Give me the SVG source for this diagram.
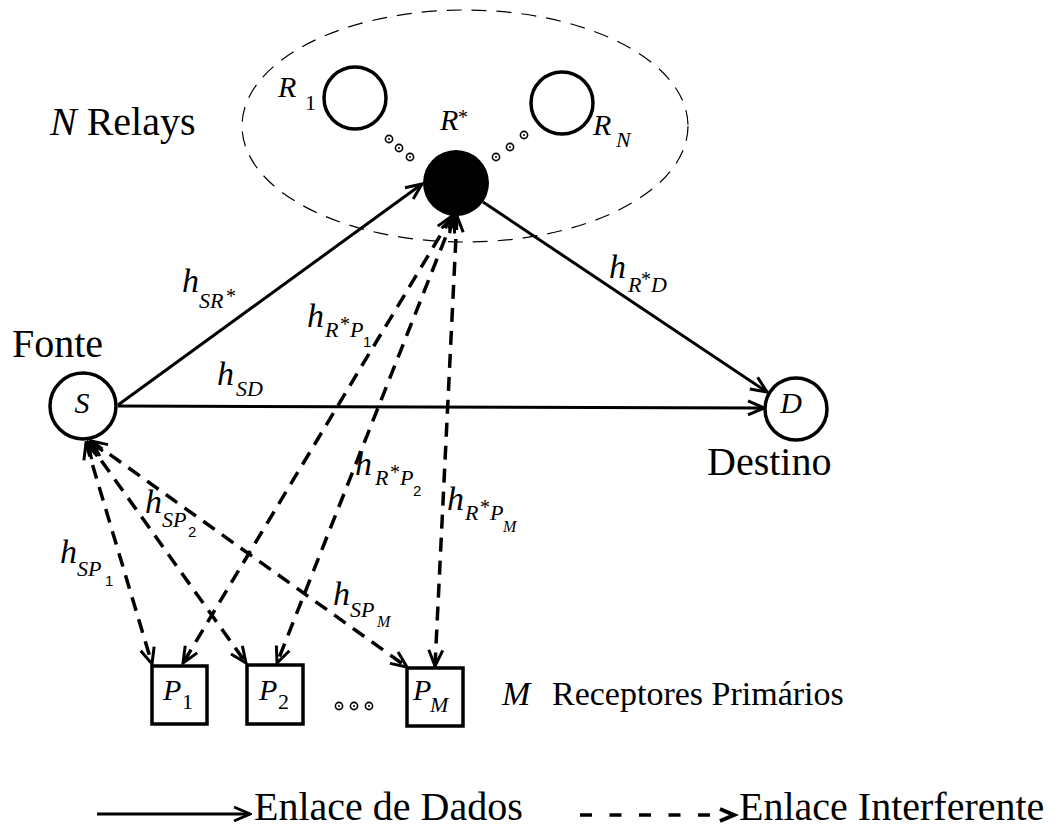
<svg xmlns="http://www.w3.org/2000/svg" width="1063" height="828" viewBox="0 0 1063 828">
  <defs>
    <marker id="arrow" viewBox="-20 -10 22 20" markerWidth="22" markerHeight="20" refX="0" refY="0" orient="auto" markerUnits="userSpaceOnUse">
      <path d="M-16,-7 L0,0 L-16,7" fill="none" stroke="#000" stroke-width="3"/>
    </marker>
    <marker id="arrow-back" viewBox="-2 -10 22 20" markerWidth="22" markerHeight="20" refX="0" refY="0" orient="auto" markerUnits="userSpaceOnUse">
      <path d="M16,-7 L0,0 L16,7" fill="none" stroke="#000" stroke-width="3"/>
    </marker>
  </defs>

  <rect x="0" y="0" width="1063" height="828" fill="#fff"/>

  <!-- relay cluster outline -->
  <ellipse cx="465" cy="126" rx="223" ry="116" fill="none" stroke="#000" stroke-width="1.2" stroke-dasharray="15 10"/>
  <text x="50" y="135" font-family="Liberation Serif" font-size="40" style="font-family: 'Liberation Serif', serif"><tspan font-style="italic">N</tspan> Relays</text>

  <!-- links -->
  <g id="connectors">
    <g id="data-links" fill="none" stroke="#000" stroke-width="3">
      <line x1="118" y1="405" x2="422" y2="184" marker-end="url(#arrow)"/>
      <line x1="118" y1="406" x2="764" y2="408" marker-end="url(#arrow)"/>
      <line x1="483" y1="202" x2="767" y2="392" marker-end="url(#arrow)"/>
    </g>
    <g id="interference-links" fill="none" stroke="#000" stroke-width="3.5" stroke-dasharray="14 9">
      <line x1="86" y1="443" x2="152" y2="664" marker-start="url(#arrow-back)" marker-end="url(#arrow)"/>
      <line x1="88" y1="442" x2="246" y2="663" marker-start="url(#arrow-back)" marker-end="url(#arrow)"/>
      <line x1="91" y1="441" x2="407" y2="667" marker-start="url(#arrow-back)" marker-end="url(#arrow)"/>
      <line x1="452" y1="216" x2="183" y2="663" marker-start="url(#arrow-back)" marker-end="url(#arrow)"/>
      <line x1="454" y1="216" x2="277" y2="663" marker-start="url(#arrow-back)" marker-end="url(#arrow)"/>
      <line x1="457" y1="216" x2="435" y2="666" marker-start="url(#arrow-back)" marker-end="url(#arrow)"/>
    </g>
  </g>

  <!-- channel labels: h (34px italic), subscripts (22px italic), second-level indices (15px) -->
  <g id="channel-labels" font-family="Liberation Serif" fill="#000">
    <text x="182" y="292" font-size="34" font-style="italic" style="font-family: 'Liberation Serif', serif">h<tspan font-size="22" x="199" y="308">SR</tspan><tspan font-size="20" font-style="normal" x="226" y="303">*</tspan></text>
    <text x="217" y="385" font-size="34" font-style="italic" style="font-family: 'Liberation Serif', serif">h<tspan font-size="22" x="236" y="396">SD</tspan></text>
    <text x="609" y="278" font-size="34" font-style="italic" style="font-family: 'Liberation Serif', serif">h<tspan font-size="22" x="628" y="292">R</tspan><tspan font-size="20" font-style="normal" x="641" y="286">*</tspan><tspan font-size="22" x="651" y="292">D</tspan></text>

    <text x="307" y="327" font-size="34" font-style="italic" style="font-family: 'Liberation Serif', serif">h<tspan font-size="22" x="325" y="337">R</tspan><tspan font-size="20" font-style="normal" x="340" y="331">*</tspan><tspan font-size="22" x="350" y="337">P</tspan><tspan font-size="15" font-style="normal" style="font-family: 'Liberation Sans', sans-serif" x="363" y="347">1</tspan></text>
    <text x="355" y="475" font-size="34" font-style="italic" style="font-family: 'Liberation Serif', serif">h<tspan font-size="22" x="375" y="485">R</tspan><tspan font-size="20" font-style="normal" x="390" y="479">*</tspan><tspan font-size="22" x="400" y="485">P</tspan><tspan font-size="15" font-style="normal" style="font-family: 'Liberation Sans', sans-serif" x="413" y="496">2</tspan></text>
    <text x="447" y="510" font-size="34" font-style="italic" style="font-family: 'Liberation Serif', serif">h<tspan font-size="22" x="465" y="520">R</tspan><tspan font-size="20" font-style="normal" x="480" y="514">*</tspan><tspan font-size="22" x="490" y="520">P</tspan><tspan font-size="16" x="503" y="532">M</tspan></text>

    <text x="145" y="513" font-size="34" font-style="italic" style="font-family: 'Liberation Serif', serif">h<tspan font-size="22" x="162" y="527">SP</tspan><tspan font-size="15" font-style="normal" style="font-family: 'Liberation Sans', sans-serif" x="188" y="537">2</tspan></text>
    <text x="60" y="563" font-size="34" font-style="italic" style="font-family: 'Liberation Serif', serif">h<tspan font-size="22" x="77" y="576">SP</tspan><tspan font-size="15" font-style="normal" style="font-family: 'Liberation Sans', sans-serif" x="105" y="586">1</tspan></text>
    <text x="333" y="605" font-size="34" font-style="italic" style="font-family: 'Liberation Serif', serif">h<tspan font-size="22" x="350" y="617">SP</tspan><tspan font-size="16" x="377" y="627">M</tspan></text>
  </g>

  <!-- relays -->
  <g id="relay-1">
    <circle cx="355" cy="98" r="31" fill="#fff" stroke="#000" stroke-width="3.5"/>
    <text x="278" y="97" font-family="Liberation Serif" font-size="30" font-style="italic" style="font-family: 'Liberation Serif', serif">R<tspan font-size="22" font-style="normal" x="305" y="110">1</tspan></text>
  </g>
  <g id="relay-best">
    <circle cx="456" cy="183" r="33" fill="#000"/>
    <text x="440" y="130" font-family="Liberation Serif" font-size="30" font-style="italic" style="font-family: 'Liberation Serif', serif">R<tspan font-size="20" font-style="normal" x="458" y="124">*</tspan></text>
  </g>
  <g id="relay-n">
    <circle cx="562" cy="103" r="31" fill="#fff" stroke="#000" stroke-width="3.5"/>
    <text x="593" y="135" font-family="Liberation Serif" font-size="30" font-style="italic" style="font-family: 'Liberation Serif', serif">R<tspan font-size="22" x="616" y="147">N</tspan></text>
  </g>
  <!-- ellipsis dots between relays: small rings with a centre point -->
  <g id="relay-dots" fill="#fff" stroke="#000" stroke-width="1.6">
    <circle cx="389" cy="139" r="3.6"/>
    <circle cx="399" cy="148" r="3.6"/>
    <circle cx="410" cy="157" r="3.6"/>
    <circle cx="496" cy="157" r="3.6"/>
    <circle cx="510" cy="147" r="3.6"/>
    <circle cx="524" cy="135" r="3.6"/>
    <g fill="#000" stroke="none">
      <circle cx="389" cy="139" r="1"/>
      <circle cx="399" cy="148" r="1"/>
      <circle cx="410" cy="157" r="1"/>
      <circle cx="496" cy="157" r="1"/>
      <circle cx="510" cy="147" r="1"/>
      <circle cx="524" cy="135" r="1"/>
    </g>
  </g>

  <!-- source -->
  <g id="source">
    <circle cx="83" cy="406" r="33" fill="#fff" stroke="#000" stroke-width="3.5"/>
    <text x="82" y="413" text-anchor="middle" font-family="Liberation Serif" font-size="30" font-style="italic" style="font-family: 'Liberation Serif', serif">S</text>
    <text x="12" y="357" font-family="Liberation Serif" font-size="40" style="font-family: 'Liberation Serif', serif">Fonte</text>
  </g>

  <!-- destination -->
  <g id="destination">
    <circle cx="796" cy="409" r="31" fill="#fff" stroke="#000" stroke-width="3.5"/>
    <text x="791" y="413" text-anchor="middle" font-family="Liberation Serif" font-size="30" font-style="italic" style="font-family: 'Liberation Serif', serif">D</text>
    <text x="707" y="475" font-family="Liberation Serif" font-size="40" style="font-family: 'Liberation Serif', serif">Destino</text>
  </g>

  <!-- primary receivers -->
  <g id="primary-1">
    <rect x="152" y="666" width="55" height="58" fill="#fff" stroke="#000" stroke-width="3.5"/>
    <text x="163" y="700" font-family="Liberation Serif" font-size="30" font-style="italic" style="font-family: 'Liberation Serif', serif">P<tspan font-size="22" font-style="normal" x="182" y="709">1</tspan></text>
  </g>
  <g id="primary-2">
    <rect x="247" y="665" width="56" height="59" fill="#fff" stroke="#000" stroke-width="3.5"/>
    <text x="259" y="700" font-family="Liberation Serif" font-size="30" font-style="italic" style="font-family: 'Liberation Serif', serif">P<tspan font-size="22" font-style="normal" x="278" y="709">2</tspan></text>
  </g>
  <g id="primary-m">
    <rect x="407" y="668" width="56" height="58" fill="#fff" stroke="#000" stroke-width="3.5"/>
    <text x="413" y="700" font-family="Liberation Serif" font-size="30" font-style="italic" style="font-family: 'Liberation Serif', serif">P<tspan font-size="22" x="430" y="712">M</tspan></text>
  </g>
  <g id="primary-dots" fill="#fff" stroke="#000" stroke-width="1.6">
    <circle cx="339" cy="706" r="3.6"/>
    <circle cx="354" cy="706" r="3.6"/>
    <circle cx="369" cy="706" r="3.6"/>
    <g fill="#000" stroke="none">
      <circle cx="339" cy="706" r="1"/>
      <circle cx="354" cy="706" r="1"/>
      <circle cx="369" cy="706" r="1"/>
    </g>
  </g>
  <text x="502" y="705" font-family="Liberation Serif" font-size="34" style="font-family: 'Liberation Serif', serif"><tspan font-style="italic">M</tspan><tspan x="552" y="705">Receptores Prim&#225;rios</tspan></text>

  <!-- legend -->
  <g id="legend">
    <line x1="97" y1="814" x2="250" y2="814" stroke="#000" stroke-width="3" marker-end="url(#arrow)"/>
    <text x="254" y="820" font-family="Liberation Serif" font-size="40" style="font-family: 'Liberation Serif', serif">Enlace de Dados</text>
    <line x1="580" y1="815" x2="712" y2="815" stroke="#000" stroke-width="3.5" stroke-dasharray="12 17.5"/>
    <polyline points="720,809 734,815 720,821" fill="none" stroke="#000" stroke-width="4"/>
    <text x="739" y="820" font-family="Liberation Serif" font-size="40" style="font-family: 'Liberation Serif', serif">Enlace Interferente</text>
  </g>
</svg>
